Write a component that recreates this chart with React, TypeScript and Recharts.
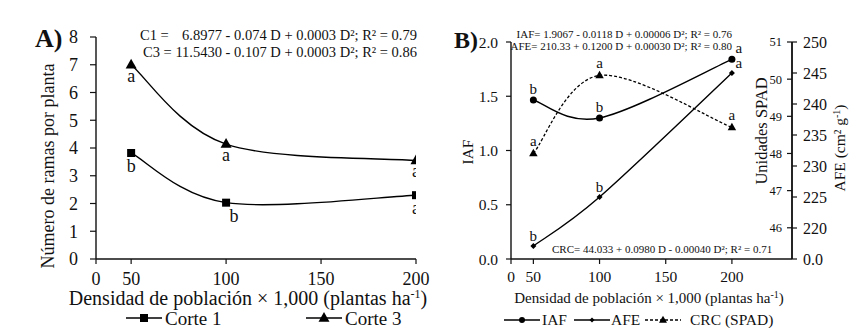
import React from "react";
import { Line, LineChart, XAxis, YAxis } from "recharts";

const serif = "'Liberation Serif', 'Times New Roman', serif";

// panel A: branches per plant
const densities = [50, 100, 200];
const corte1 = [3.82, 2.03, 2.3];
const corte3 = [7.0, 4.14, 3.55];
const corte1Letters = ["b", "b", "a"];
const corte3Letters = ["a", "a", "a"];
const xTicksA = [31.5, 50, 100, 150, 200]; // first tick sits on the origin and reads "0"
const yTicksA = [0, 1, 2, 3, 4, 5, 6, 7, 8];

// panel B: IAF / AFE / CRC
const iaf = [1.465, 1.3, 1.84];
const afe = [217.1, 225.0, 245.0];
const crc = [48.0, 50.1, 48.7];
const iafLetters = ["b", "b", "a"];
const afeLetters = ["b", "b", "a"];
const crcLetters = ["a", "a", "a"];
const xTicksB = [33.1, 50, 100, 150, 200];
const iafTicks = [0, 0.5, 1, 1.5, 2];
const spadTicks = [46, 47, 48, 49, 50, 51];
const afeTicks = [215, 220, 225, 230, 235, 240, 245, 250]; // bottom one printed as "0.0"

const rowsA = densities.map((d, i) => ({
  d,
  c1: corte1[i],
  c3: corte3[i],
  c1L: corte1Letters[i],
  c3L: corte3Letters[i],
}));

const rowsB = densities.map((d, i) => ({
  d,
  iaf: iaf[i],
  afe: afe[i],
  crc: crc[i],
  iafL: iafLetters[i],
  afeL: afeLetters[i],
  crcL: crcLetters[i],
}));

// excel-like smoothed line (catmull-rom through the points)
const smooth = (context: any) => {
  let pts: number[][] = [];
  return {
    areaStart() {},
    areaEnd() {},
    lineStart() {
      pts = [];
    },
    point(x: number, y: number) {
      pts.push([+x, +y]);
    },
    lineEnd() {
      if (!pts.length) return;
      context.moveTo(pts[0][0], pts[0][1]);
      for (let i = 0; i < pts.length - 1; i++) {
        const p0 = pts[Math.max(i - 1, 0)];
        const p1 = pts[i];
        const p2 = pts[i + 1];
        const p3 = pts[Math.min(i + 2, pts.length - 1)];
        context.bezierCurveTo(
          p1[0] + (p2[0] - p0[0]) / 6,
          p1[1] + (p2[1] - p0[1]) / 6,
          p2[0] - (p3[0] - p1[0]) / 6,
          p2[1] - (p3[1] - p1[1]) / 6,
          p2[0],
          p2[1]
        );
      }
    },
  };
};

type Shape = "square" | "triangle" | "circle" | "diamond";

function Marker({ shape, cx, cy, size }: { shape: Shape; cx: number; cy: number; size: number }) {
  if (shape === "square")
    return <rect x={cx - size / 2} y={cy - size / 2} width={size} height={size} fill="#000" />;
  if (shape === "circle") return <circle cx={cx} cy={cy} r={size / 2} fill="#000" />;
  if (shape === "diamond")
    return (
      <path
        d={`M${cx},${cy - size / 2}L${cx + size / 2},${cy}L${cx},${cy + size / 2}L${cx - size / 2},${cy}Z`}
        fill="#000"
      />
    );
  const h = size * 0.88;
  return (
    <path
      d={`M${cx},${cy - h * 0.62}L${cx + size / 2},${cy + h * 0.38}L${cx - size / 2},${cy + h * 0.38}Z`}
      fill="#000"
    />
  );
}

// marker + significance letter
const letterDot =
  (shape: Shape, size: number, key: string, dy: number, fontSize: number, shiftAt = -1, shiftX = 0) =>
  (p: any) => (
    <g key={`dot-${key}-${p.index}`}>
      <Marker shape={shape} cx={p.cx} cy={p.cy} size={size} />
      <text
        x={p.cx + (p.index === shiftAt ? shiftX : 0)}
        y={p.cy + dy}
        textAnchor="middle"
        fontFamily={serif}
        fontSize={fontSize}
        fill="#111"
      >
        {p.payload[key]}
      </text>
    </g>
  );

const axisLine = { stroke: "#111", strokeWidth: 1.4 };
const tickLine = { stroke: "#111", strokeWidth: 1.2 };

function PanelA() {
  return (
    <LineChart
      width={440}
      height={328}
      data={rowsA}
      margin={{ top: 37, right: 24, bottom: 39, left: 0 }}
      style={{ fontFamily: serif }}
    >
      <XAxis
        type="number"
        dataKey="d"
        domain={[31.5, 200]}
        ticks={xTicksA}
        allowDataOverflow
        interval={0}
        height={30}
        tickSize={5}
        tickMargin={8}
        axisLine={axisLine}
        tickLine={tickLine}
        tickFormatter={(v) => (v === xTicksA[0] ? "0" : String(v))}
        tick={{ fontFamily: serif, fontSize: 18, fill: "#111" }}
      />
      <YAxis
        type="number"
        domain={[0, 8]}
        ticks={yTicksA}
        allowDataOverflow
        interval={0}
        width={96}
        tickSize={6}
        tickMargin={12}
        axisLine={axisLine}
        tickLine={tickLine}
        tick={{ fontFamily: serif, fontSize: 18, fill: "#111" }}
      />
      <Line
        dataKey="c1"
        name="Corte 1"
        type={smooth as any}
        stroke="#000"
        strokeWidth={1.4}
        dot={letterDot("square", 8, "c1L", 19, 18, 1, 8)}
        isAnimationActive={false}
      />
      <Line
        dataKey="c3"
        name="Corte 3"
        type={smooth as any}
        stroke="#000"
        strokeWidth={1.4}
        dot={letterDot("triangle", 11, "c3L", 17, 18)}
        isAnimationActive={false}
      />
    </LineChart>
  );
}

function PanelB() {
  return (
    <LineChart
      width={425}
      height={328}
      data={rowsB}
      margin={{ top: 42, right: 0, bottom: 39, left: 0 }}
      style={{ fontFamily: serif }}
    >
      <XAxis
        type="number"
        dataKey="d"
        domain={[33.1, 245.4]}
        ticks={xTicksB}
        allowDataOverflow
        interval={0}
        height={30}
        tickSize={5}
        tickMargin={7}
        axisLine={axisLine}
        tickLine={tickLine}
        tickFormatter={(v) => (v === xTicksB[0] ? "0" : String(v))}
        tick={{ fontFamily: serif, fontSize: 15.5, fill: "#111" }}
      />
      <YAxis
        yAxisId="iaf"
        type="number"
        domain={[0, 2]}
        ticks={iafTicks}
        allowDataOverflow
        interval={0}
        width={71}
        tickSize={5}
        tickMargin={8}
        axisLine={axisLine}
        tickLine={tickLine}
        tickFormatter={(v) => Number(v).toFixed(1)}
        tick={{ fontFamily: serif, fontSize: 15.5, fill: "#111" }}
      />
      <YAxis
        yAxisId="afe"
        orientation="right"
        type="number"
        domain={[215, 250]}
        ticks={afeTicks}
        allowDataOverflow
        interval={0}
        width={73}
        tickSize={5}
        tickMargin={6}
        axisLine={axisLine}
        tickLine={tickLine}
        tickFormatter={(v) => (v === afeTicks[0] ? "0.0" : String(v))}
        tick={{ fontFamily: serif, fontSize: 16, fill: "#111" }}
      />
      <YAxis
        yAxisId="spad"
        orientation="right"
        mirror
        type="number"
        domain={[45.16, 51]}
        ticks={spadTicks}
        allowDataOverflow
        interval={0}
        width={1}
        tickSize={5}
        tickMargin={5}
        axisLine={axisLine}
        tickLine={tickLine}
        tick={{ fontFamily: serif, fontSize: 12.5, fill: "#111" }}
      />
      <Line
        yAxisId="iaf"
        dataKey="iaf"
        name="IAF"
        type={smooth as any}
        stroke="#000"
        strokeWidth={1.4}
        dot={letterDot("circle", 7, "iafL", -6, 15, 2, 7)}
        isAnimationActive={false}
      />
      <Line
        yAxisId="afe"
        dataKey="afe"
        name="AFE"
        type={smooth as any}
        stroke="#000"
        strokeWidth={1.4}
        dot={letterDot("diamond", 6, "afeL", -5, 15, 2, 7)}
        isAnimationActive={false}
      />
      <Line
        yAxisId="spad"
        dataKey="crc"
        name="CRC (SPAD)"
        type={smooth as any}
        stroke="#000"
        strokeWidth={1.3}
        strokeDasharray="3 2"
        dot={letterDot("triangle", 8.5, "crcL", -7, 15)}
        isAnimationActive={false}
      />
    </LineChart>
  );
}

function LegendIcon({ x, y, shape, size, dashed }: { x: number; y: number; shape: Shape; size: number; dashed?: boolean }) {
  return (
    <g>
      <line x1={x} x2={x + 36} y1={y} y2={y} stroke="#000" strokeWidth={1.4} strokeDasharray={dashed ? "3 2" : undefined} />
      <Marker shape={shape} cx={x + 18} cy={y} size={size} />
    </g>
  );
}

function Overlay() {
  return (
    <svg
      width={865}
      height={328}
      style={{ position: "absolute", left: 0, top: 0, pointerEvents: "none" }}
      fontFamily={serif}
      fill="#111"
    >
      {/* panel A */}
      <text x={35} y={47} fontSize={26} fontWeight="bold">A)</text>
      <text x={140} y={40} fontSize={14.5}>C1 =</text>
      <text x={417} y={40} fontSize={14.5} textAnchor="end">6.8977 - 0.074 D + 0.0003 D²; R² = 0.79</text>
      <text x={417} y={57} fontSize={14.5} textAnchor="end">C3 = 11.5430 - 0.107 D + 0.0003 D²; R² = 0.86</text>
      <text transform="translate(54,166) rotate(-90)" textAnchor="middle" fontSize={18}>
        Número de ramas por planta
      </text>
      <text x={248} y={305} textAnchor="middle" fontSize={20}>
        Densidad de población × 1,000 (plantas ha<tspan dy={-7} fontSize={12}>-1</tspan>
        <tspan dy={7}>)</tspan>
      </text>
      <LegendIcon x={126} y={318} shape="square" size={8} />
      <text x={165} y={325} fontSize={19}>Corte 1</text>
      <LegendIcon x={306} y={318} shape="triangle" size={11} />
      <text x={345} y={325} fontSize={19}>Corte 3</text>

      {/* panel B */}
      <text x={454} y={48} fontSize={24} fontWeight="bold">B)</text>
      <text x={732} y={38} fontSize={11} textAnchor="end">IAF= 1.9067 - 0.0118 D + 0.00006 D²; R² = 0.76</text>
      <text x={732} y={50} fontSize={11} textAnchor="end">AFE= 210.33 + 0.1200 D + 0.00030 D²; R² = 0.80</text>
      <text x={552} y={253} fontSize={11}>CRC= 44.033 + 0.0980 D - 0.00040 D²; R² = 0.71</text>
      <text transform="translate(473,152) rotate(-90)" textAnchor="middle" fontSize={15.5}>IAF</text>
      <text transform="translate(767,131) rotate(-90)" textAnchor="middle" fontSize={16.5}>Unidades SPAD</text>
      <text transform="translate(845,148) rotate(-90)" textAnchor="middle" fontSize={15.5}>
        AFE (cm² g<tspan dy={-5} fontSize={10}>-1</tspan>
        <tspan dy={5}>)</tspan>
      </text>
      <text x={649} y={303} textAnchor="middle" fontSize={15}>
        Densidad de población × 1,000 (plantas ha<tspan dy={-5} fontSize={10}>-1</tspan>
        <tspan dy={5}>)</tspan>
      </text>
      <LegendIcon x={504} y={320} shape="circle" size={6} />
      <text x={542} y={325} fontSize={15.5}>IAF</text>
      <LegendIcon x={574} y={320} shape="diamond" size={5} />
      <text x={611} y={325} fontSize={15.5}>AFE</text>
      <LegendIcon x={645} y={320} shape="triangle" size={8} dashed />
      <text x={690} y={325} fontSize={15.5}>CRC (SPAD)</text>
    </svg>
  );
}

export default function App() {
  return (
    <div style={{ position: "absolute", left: 0, top: 0, width: 865, height: 328, background: "#fff", overflow: "hidden" }}>
      <div style={{ position: "absolute", left: 0, top: 0 }}>
        <PanelA />
      </div>
      <div style={{ position: "absolute", left: 440, top: 0 }}>
        <PanelB />
      </div>
      <Overlay />
    </div>
  );
}
